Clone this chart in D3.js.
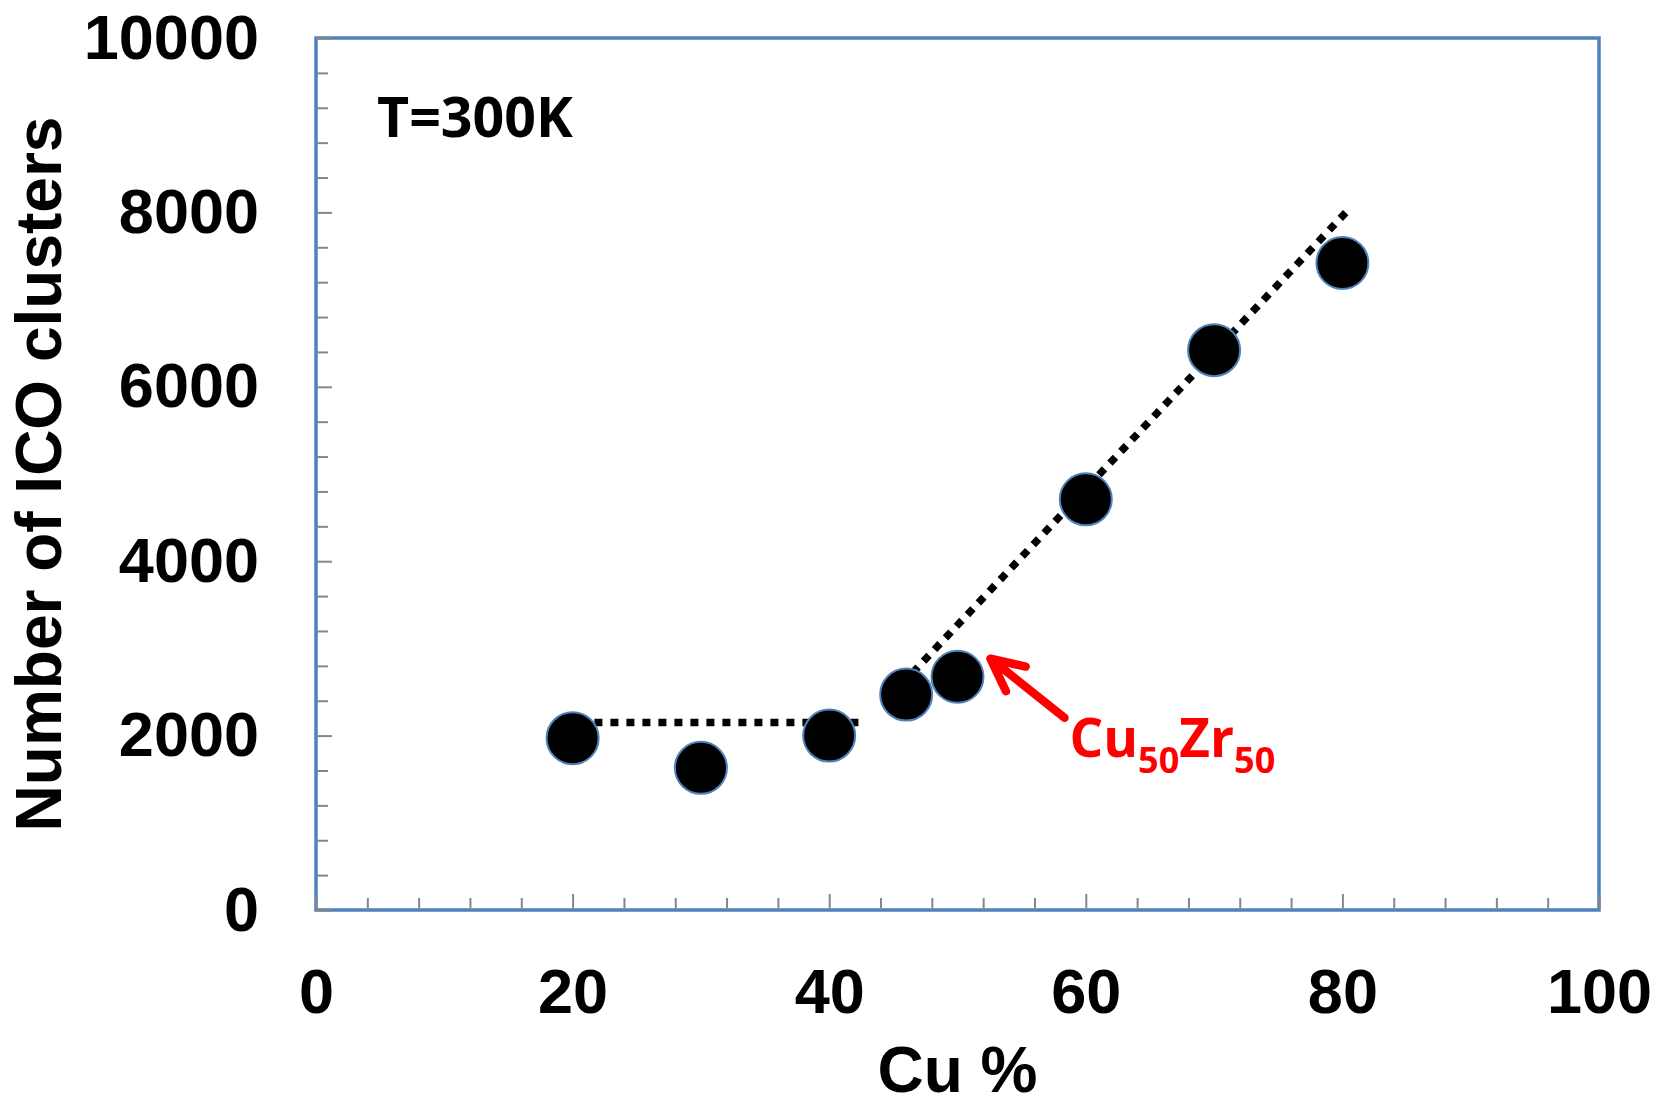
<!DOCTYPE html>
<html>
<head>
<meta charset="utf-8">
<script src="https://cdn.jsdelivr.net/npm/d3@7/dist/d3.min.js"></script>
<style>
  html, body { margin: 0; padding: 0; background: #fff; }
  svg { display: block; }
</style>
</head>
<body>
<svg id="chart" width="1655" height="1096"></svg>
<script>
// Cu content (%) of each alloy and the ICO cluster count at 300 K
const cuPercent = [20, 30, 40, 46, 50, 60, 70, 80];
const icoCount  = [1970, 1630, 2000, 2470, 2675, 4710, 6420, 7420];

// Dotted guide lines: plateau at low Cu, linear rise above ~46 % Cu
const plateauX = [21.7, 42.4];
const plateauY = [2150, 2150];
const riseX = [46.5, 80.4];
const riseY = [2720, 8020];

// Axis ticks
const xMajorTicks = [0, 20, 40, 60, 80, 100];
const yMajorTicks = [0, 2000, 4000, 6000, 8000, 10000];

const highlightCu = 50;

const W = 1655, H = 1096;
const margin = { left: 316, right: 56, top: 38, bottom: 186 };
const pw = W - margin.left - margin.right;
const ph = H - margin.top - margin.bottom;

const svg = d3.select("#chart");
const g = svg.append("g").attr("transform", `translate(${margin.left},${margin.top})`);

const x = d3.scaleLinear().domain([0, 100]).range([0, pw]);
const y = d3.scaleLinear().domain([0, 10000]).range([ph, 0]);

const axisFont = "'Liberation Sans', Arial, sans-serif";
const tickGrey = "#868686";
const frameBlue = "#4f81bd";

// Plot frame
g.append("rect")
  .attr("x", 0).attr("y", 0).attr("width", pw).attr("height", ph)
  .attr("fill", "none").attr("stroke", frameBlue).attr("stroke-width", 3.5);

// Minor ticks (inward, no labels)
const xMinor = d3.range(0, 100.001, 4).filter(v => v % 20 !== 0);
const yMinor = d3.range(0, 10000.001, 400).filter(v => v % 2000 !== 0);

g.append("g").attr("transform", `translate(0,${ph})`)
  .call(d3.axisBottom(x).tickValues(xMinor).tickSizeInner(-12).tickSizeOuter(0).tickFormat(""))
  .call(s => s.select(".domain").remove())
  .call(s => s.selectAll("line").attr("stroke", tickGrey).attr("stroke-width", 2));

g.append("g")
  .call(d3.axisLeft(y).tickValues(yMinor).tickSizeInner(-12).tickSizeOuter(0).tickFormat(""))
  .call(s => s.select(".domain").remove())
  .call(s => s.selectAll("line").attr("stroke", tickGrey).attr("stroke-width", 2));

// Major ticks with labels
g.append("g").attr("transform", `translate(0,${ph})`)
  .call(d3.axisBottom(x).tickValues(xMajorTicks).tickSizeInner(-16).tickSizeOuter(0).tickPadding(58).tickFormat(d3.format("d")))
  .call(s => s.select(".domain").remove())
  .call(s => s.selectAll("line").attr("stroke", tickGrey).attr("stroke-width", 2))
  .call(s => s.selectAll("text").attr("fill", "#000").attr("font-family", axisFont)
      .attr("font-weight", "bold").attr("font-size", 63));

g.append("g")
  .call(d3.axisLeft(y).tickValues(yMajorTicks).tickSizeInner(-16).tickSizeOuter(0).tickPadding(57).tickFormat(d3.format("d")))
  .call(s => s.select(".domain").remove())
  .call(s => s.selectAll("line").attr("stroke", tickGrey).attr("stroke-width", 2))
  .call(s => s.selectAll("text").attr("fill", "#000").attr("font-family", axisFont)
      .attr("font-weight", "bold").attr("font-size", 63));

// Axis titles
svg.append("text")
  .attr("x", margin.left + pw / 2).attr("y", 1092)
  .attr("text-anchor", "middle")
  .attr("font-family", axisFont).attr("font-weight", "bold").attr("font-size", 64)
  .text("Cu %");

svg.append("text")
  .attr("transform", `translate(61,${margin.top + ph / 2}) rotate(-90)`)
  .attr("text-anchor", "middle")
  .attr("font-family", axisFont).attr("font-weight", "bold").attr("font-size", 64)
  .text("Number of ICO clusters");

// Dotted guide lines
const line = d3.line().x(d => x(d[0])).y(d => y(d[1]));
[[plateauX, plateauY], [riseX, riseY]].forEach(([xs, ys]) => {
  g.append("path")
    .datum(d3.zip(xs, ys))
    .attr("d", line)
    .attr("fill", "none")
    .attr("stroke", "#000")
    .attr("stroke-width", 7.5)
    .attr("stroke-dasharray", "8 8");
});

// Data markers
g.selectAll("circle.pt")
  .data(d3.zip(cuPercent, icoCount))
  .join("circle")
  .attr("class", "pt")
  .attr("cx", d => x(d[0]))
  .attr("cy", d => y(d[1]))
  .attr("r", 26)
  .attr("fill", "#000")
  .attr("stroke", frameBlue)
  .attr("stroke-width", 2);

// Temperature label
g.append("text")
  .attr("x", 61).attr("y", 99)
  .attr("font-family", "'Open Sans', sans-serif").attr("font-weight", "bold").attr("font-size", 55.5)
  .text("T=300K");

// Cu50Zr50 call-out with arrow pointing at the 50 % Cu marker
const hi = icoCount[cuPercent.indexOf(highlightCu)];
const px = x(highlightCu), py = y(hi);
const tip = [px + 33, py - 18];
const tail = [px + 107, py + 41];
const ang = Math.atan2(tail[1] - tip[1], tail[0] - tip[0]);
const armLen = 36, spread = 26 * Math.PI / 180;
const arm1 = [tip[0] + armLen * Math.cos(ang - spread), tip[1] + armLen * Math.sin(ang - spread)];
const arm2 = [tip[0] + armLen * Math.cos(ang + spread), tip[1] + armLen * Math.sin(ang + spread)];
const red = "#ff0000";
g.append("path")
  .attr("d", `M${tail[0]},${tail[1]}L${tip[0]},${tip[1]}M${arm1[0]},${arm1[1]}L${tip[0]},${tip[1]}L${arm2[0]},${arm2[1]}`)
  .attr("fill", "none").attr("stroke", red).attr("stroke-width", 8.5)
  .attr("stroke-linecap", "round").attr("stroke-linejoin", "round");

const lab = g.append("text")
  .attr("x", px + 112).attr("y", py + 80)
  .attr("font-family", "'Open Sans', sans-serif").attr("font-weight", "bold").attr("font-size", 53)
  .attr("fill", red);
lab.append("tspan").text("Cu");
lab.append("tspan").attr("font-size", 36).attr("dy", 16).text("50");
lab.append("tspan").attr("dy", -16).text("Zr");
lab.append("tspan").attr("font-size", 36).attr("dy", 16).text("50");
</script>
</body>
</html>
